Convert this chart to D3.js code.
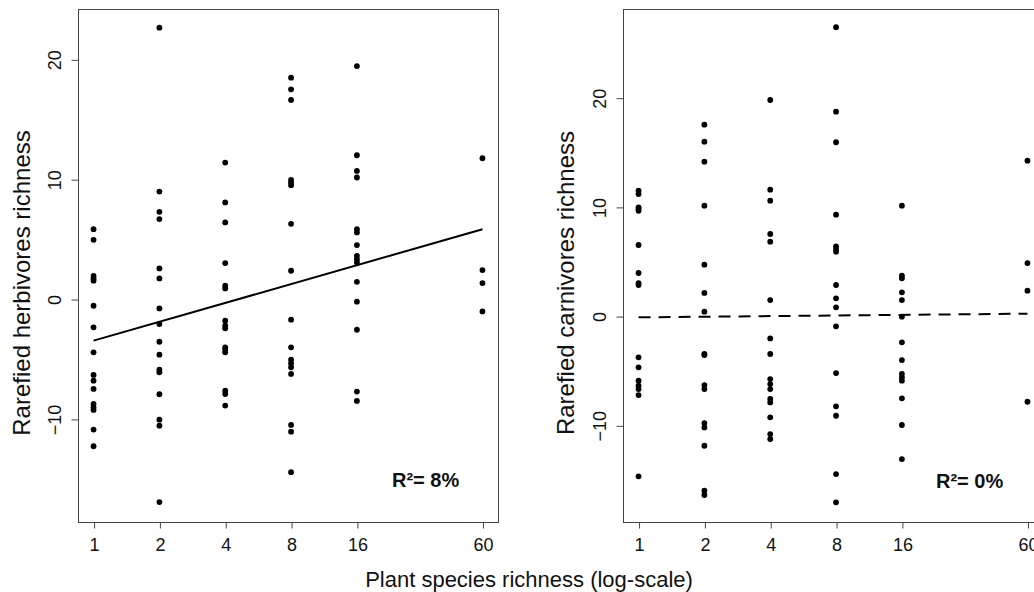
<!DOCTYPE html>
<html>
<head>
<meta charset="utf-8">
<script src="https://cdn.jsdelivr.net/npm/d3@7"></script>
<style>
  body { margin: 0; background: #fff; }
  svg { font-family: "Liberation Sans", Arial, sans-serif; }
</style>
</head>
<body>
<div id="canvas"></div>
<script>
// plant species richness levels (x axis, log scale)
const richness = [1, 2, 4, 8, 16, 60];

// rarefied herbivores richness, one array per richness level
const herbivores = [
  [5.83, 4.94, 1.94, 1.72, 1.53, -0.56, -2.36, -4.44, -6.33, -6.81, -7.5, -8.75, -9.03, -9.25, -10.89, -12.28],
  [22.64, 8.97, 7.28, 6.67, 2.56, 1.72, -0.78, -2.08, -3.56, -4.64, -5.89, -6.11, -7.94, -10.06, -10.56, -16.94],
  [11.39, 8.06, 6.39, 3.0, 1.11, 0.89, -1.81, -2.22, -2.44, -4.03, -4.22, -4.44, -7.64, -7.92, -8.89],
  [18.47, 17.5, 16.61, 9.94, 9.72, 9.5, 6.28, 2.36, -1.72, -4.03, -5.06, -5.36, -5.69, -6.25, -10.5, -11.06, -14.44],
  [19.44, 12.0, 10.69, 10.14, 5.83, 5.56, 4.5, 3.61, 3.33, 3.06, 1.44, -0.22, -2.56, -7.72, -8.5],
  [11.75, 2.42, 1.33, -1.03]
];

// rarefied carnivores richness, one array per richness level
const carnivores = [
  [11.48, 11.18, 9.96, 9.81, 9.65, 6.51, 3.95, 3.03, 2.85, -3.77, -4.69, -5.91, -6.37, -6.68, -7.23, -14.67],
  [17.53, 15.97, 14.14, 10.11, 4.71, 2.12, 0.41, -3.47, -3.56, -6.31, -6.68, -9.79, -10.19, -11.87, -15.99, -16.38],
  [19.79, 11.58, 10.57, 7.52, 6.82, 1.47, -2.04, -3.47, -5.76, -6.22, -6.68, -7.59, -7.9, -9.27, -10.8, -11.25],
  [26.45, 18.72, 15.92, 9.29, 6.39, 6.14, 5.9, 2.85, 1.63, 0.81, -0.93, -5.21, -8.26, -9.12, -14.46, -17.05],
  [10.11, 3.7, 3.46, 2.18, 1.47, -0.05, -2.4, -4.02, -5.3, -5.6, -5.91, -7.53, -9.97, -13.09],
  [14.23, 4.86, 2.33, -7.84]
];

// fitted lines: value at richness = 1 and slope per doubling
const herbFit = { intercept: -3.47, slope: 1.574 };
const carnFit = { intercept: -0.11, slope: 0.056 };

const yTicks = [-10, 0, 10, 20];
const herbDomain = [-18.6, 24.2];
const carnDomain = [-18.85, 28.12];

const width = 1034;
const height = 592;
const font = "'Liberation Sans', Arial, sans-serif";

const svg = d3.select("#canvas").append("svg")
  .attr("width", width)
  .attr("height", height);

// x domain: 1..60 widened by 4% on the log scale, like R does
const lo = Math.log10(1), hi = Math.log10(60), pad = (hi - lo) * 0.04;
const xDomain = [Math.pow(10, lo - pad), Math.pow(10, hi + pad)];

function panel(opts) {
  const { left, top, w, h, values, fit, yDomain, ylab, dashed, r2, labelX } = opts;

  const x = d3.scaleLog().base(2).domain(xDomain).range([left, left + w]);
  const y = d3.scaleLinear().domain(yDomain).range([top + h, top]);

  const g = svg.append("g");

  // points
  const pts = [];
  richness.forEach((r, i) => values[i].forEach(v => pts.push({ r, v })));
  g.selectAll("circle").data(pts).enter().append("circle")
    .attr("cx", d => x(d.r))
    .attr("cy", d => y(d.v))
    .attr("r", 2.9)
    .attr("fill", "#000");

  // regression line
  const ends = [richness[0], richness[richness.length - 1]];
  g.append("path")
    .attr("d", d3.line()
      .x(d => x(d))
      .y(d => y(fit.intercept + fit.slope * Math.log2(d)))(ends))
    .attr("fill", "none")
    .attr("stroke", "#000")
    .attr("stroke-width", 2)
    .attr("stroke-dasharray", dashed ? "12,8" : null);

  // box
  g.append("rect")
    .attr("x", left + 0.5).attr("y", top + 0.5)
    .attr("width", w).attr("height", h)
    .attr("fill", "none")
    .attr("stroke", "#444")
    .attr("stroke-width", 1);

  // x axis
  const xa = g.append("g")
    .attr("transform", `translate(0.5,${top + h + 0.5})`)
    .call(d3.axisBottom(x).tickValues(richness).tickFormat(d3.format("d")).tickSizeOuter(0).tickSize(6).tickPadding(10));
  xa.select(".domain").attr("d", `M${x(1)},0H${x(60)}`).attr("stroke", "#444");
  xa.selectAll(".tick line").attr("stroke", "#444");
  xa.selectAll("text").attr("font-size", 18).attr("fill", "#111").attr("font-family", font);

  // y axis, labels parallel to the axis
  const ya = g.append("g")
    .attr("transform", `translate(${left + 0.5},0.5)`)
    .call(d3.axisLeft(y).tickValues(yTicks).tickSizeOuter(0).tickSize(7));
  ya.select(".domain").attr("d", `M0,${y(-10)}V${y(20)}`).attr("stroke", "#444");
  ya.selectAll(".tick line").attr("stroke", "#444");
  ya.selectAll("text")
    .attr("x", null).attr("dy", null)
    .attr("text-anchor", "middle")
    .attr("transform", "translate(-18,0) rotate(-90)")
    .attr("font-size", 18).attr("fill", "#111")
    .attr("font-family", font);

  // y title
  svg.append("text")
    .attr("transform", `translate(${labelX},283) rotate(-90)`)
    .attr("text-anchor", "middle")
    .attr("font-size", 24)
    .attr("fill", "#111")
    .text(ylab);

  // R squared
  svg.append("text")
    .attr("x", r2.x).attr("y", r2.y)
    .attr("font-size", 20)
    .attr("font-weight", "bold")
    .attr("fill", "#111")
    .text(r2.text);
}

panel({
  left: 78, top: 9, w: 420, h: 513,
  values: herbivores, fit: herbFit, yDomain: herbDomain,
  ylab: "Rarefied herbivores richness", dashed: false,
  r2: { text: "R\u00b2= 8%", x: 392, y: 487 }, labelX: 30
});

panel({
  left: 623, top: 9, w: 420, h: 513,
  values: carnivores, fit: carnFit, yDomain: carnDomain,
  ylab: "Rarefied carnivores richness", dashed: true,
  r2: { text: "R\u00b2= 0%", x: 936, y: 488 }, labelX: 574
});

svg.append("text")
  .attr("x", 529).attr("y", 587)
  .attr("text-anchor", "middle")
  .attr("font-size", 22)
  .attr("fill", "#111")
  .text("Plant species richness (log-scale)");
</script>
</body>
</html>
